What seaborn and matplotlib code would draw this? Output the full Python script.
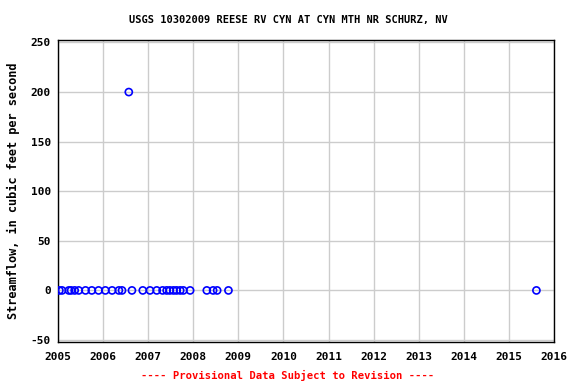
import matplotlib
matplotlib.use("Agg")
import matplotlib.pyplot as plt
import seaborn as sns
import pandas as pd

# Decimal-year dates and streamflow values (cfs)
dates = [2005.03, 2005.09, 2005.24, 2005.29, 2005.37, 2005.46, 2005.61, 2005.75,
         2005.90, 2006.05, 2006.20, 2006.35, 2006.42, 2006.57, 2006.64, 2006.88,
         2007.04, 2007.19, 2007.32, 2007.41, 2007.48, 2007.56, 2007.63, 2007.71,
         2007.78, 2007.93, 2008.30, 2008.44, 2008.53, 2008.78, 2015.61]
flows = [0, 0, 0, 0, 0, 0, 0, 0,
         0, 0, 0, 0, 0, 200, 0, 0,
         0, 0, 0, 0, 0, 0, 0, 0,
         0, 0, 0, 0, 0, 0, 0]
x_ticks = list(range(2005, 2017))
y_ticks = [-50, 0, 50, 100, 150, 200, 250]

title = "USGS 10302009 REESE RV CYN AT CYN MTH NR SCHURZ, NV"
ylabel = "Streamflow, in cubic feet per second"
footer = "---- Provisional Data Subject to Revision ----"

df = pd.DataFrame({"date": dates, "flow": flows})

sns.set_style("white")
plt.rcParams['font.family'] = ['DejaVu Sans Mono', 'DejaVu Sans']
plt.rcParams['font.weight'] = 'bold'
plt.rcParams['text.color'] = 'black'
plt.rcParams['xtick.color'] = 'black'
plt.rcParams['ytick.color'] = 'black'
plt.rcParams['axes.labelcolor'] = 'black'

fig = plt.figure(figsize=(5.76, 3.84), dpi=100)
ax = fig.add_axes([58/576, 1-342/384, (554-58)/576, (342-39.5)/384])

sns.scatterplot(data=df, x="date", y="flow", ax=ax, marker="o", s=26,
                facecolors="none", edgecolor="#0000ff", linewidth=1.2, zorder=3)

ax.set_xlim(2005, 2016)
ax.set_ylim(-52, 253)
ax.set_xticks(x_ticks)
ax.set_yticks(y_ticks)
ax.set_xticklabels([str(t) for t in x_ticks], fontsize=8, fontweight='bold')
ax.set_yticklabels([str(t) for t in y_ticks], fontsize=8, fontweight='bold')
ax.tick_params(length=0, pad=5, colors='black')
ax.tick_params(axis='x', pad=7)
ax.grid(True, color="#cccccc", linewidth=1)
ax.set_axisbelow(True)
for sp in ax.spines.values():
    sp.set_color("black")
    sp.set_linewidth(1)
ax.set_xlabel("")
ax.set_ylabel(ylabel, fontsize=8.6, fontweight='bold', labelpad=8, color='black')

fig.text(0.5, 1-20/384, title, ha='center', va='center', fontsize=7.5,
         fontweight='bold', color='black')
fig.text(0.5, 1-375/384, footer, ha='center', va='center', fontsize=7.6,
         fontweight='bold', color='red')

fig.savefig("out.png", dpi=100)
